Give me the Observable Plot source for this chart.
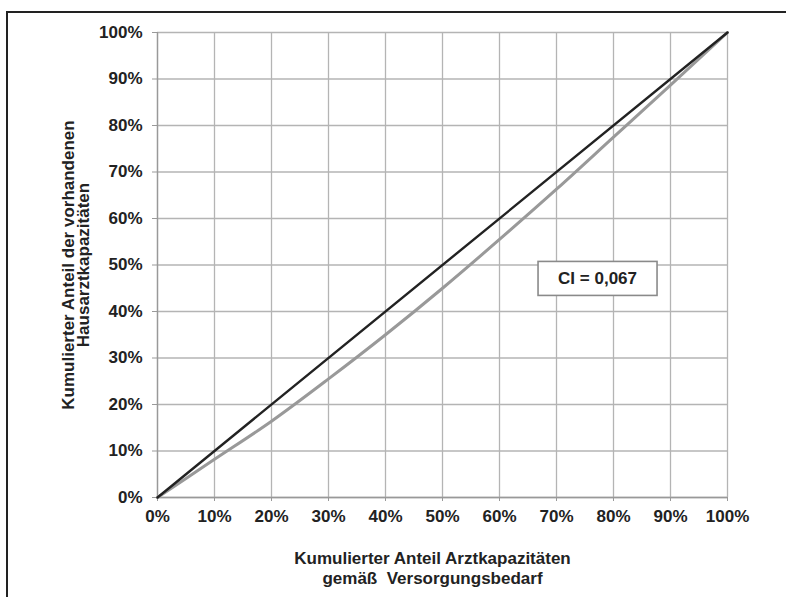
<!DOCTYPE html>
<html>
<head>
<meta charset="utf-8">
<script src="https://cdn.jsdelivr.net/npm/d3@7"></script>
<script src="https://cdn.jsdelivr.net/npm/@observablehq/plot@0.6"></script>
<style>
  html, body { margin: 0; padding: 0; background: #fff; overflow: hidden; }
  #wrap { position: relative; width: 786px; height: 597px; overflow: hidden; }
  #frame { position: absolute; left: 6px; top: 11px; width: 900px; height: 700px;
           border-left: 2px solid #222; border-top: 2px solid #222; box-sizing: border-box; }
  #chart { position: absolute; left: 0; top: 0; }
</style>
</head>
<body>
<div id="wrap"><div id="frame"></div><div id="chart"></div></div>
<script>
// Cumulative share of physician capacity (by need) – x
const capacityShare = [0, 0.1, 0.2, 0.3, 0.4, 0.5, 0.6, 0.7, 0.8, 0.9, 1.0];
// Cumulative share of existing GP capacity – concentration curve
const gpShare = [0, 0.082, 0.164, 0.255, 0.35, 0.45, 0.555, 0.663, 0.775, 0.887, 1.0];
// Line of equality
const equalityX = [0, 1];
const equalityY = [0, 1];
const tickValues = [0, 0.1, 0.2, 0.3, 0.4, 0.5, 0.6, 0.7, 0.8, 0.9, 1.0];
const ciLabel = ["CI = 0,067"];
const ciPos = {x: [0.772], y: [0.471]};
const xTitle = "Kumulierter Anteil Arztkapazitäten\ngemäß  Versorgungsbedarf";
const yTitle = "Kumulierter Anteil der vorhandenen\nHausarztkapazitäten";

const pct = d3.format(".0%");
const font = "'Liberation Sans', Arial, Helvetica, sans-serif";

const plot = Plot.plot({
  width: 786,
  height: 597,
  marginLeft: 157,
  marginRight: 59,
  marginTop: 32,
  marginBottom: 100,
  style: {fontFamily: font, fontWeight: "bold", fontSize: "17px", color: "#222", background: "transparent"},
  x: {domain: [0, 1], ticks: tickValues, tickFormat: pct},
  y: {domain: [0, 1], ticks: tickValues, tickFormat: pct},
  marks: [
    Plot.gridX(tickValues, {stroke: "#b4b4b4", strokeOpacity: 1, strokeWidth: 1.3}),
    Plot.gridY(tickValues, {stroke: "#b4b4b4", strokeOpacity: 1, strokeWidth: 1.3}),
    Plot.axisX({ticks: tickValues, tickFormat: pct, tickSize: 4, tickPadding: 8, stroke: "#999", fill: "#222", label: null, fontSize: 17}),
    Plot.axisY({ticks: tickValues, tickFormat: pct, tickSize: 5, tickPadding: 10, stroke: "#999", fill: "#222", label: null, fontSize: 17}),
    Plot.ruleX([0], {stroke: "#999", strokeWidth: 1.3}),
    Plot.ruleY([0], {stroke: "#999", strokeWidth: 1.3}),
    Plot.line(capacityShare.map((x, i) => ({x, y: gpShare[i]})), {x: "x", y: "y", stroke: "#999", strokeWidth: 3, curve: "monotone-x"}),
    Plot.line(equalityX.map((x, i) => ({x, y: equalityY[i]})), {x: "x", y: "y", stroke: "#222", strokeWidth: 2.4}),
    Plot.text(ciLabel, {x: ciPos.x, y: ciPos.y, text: d => d, fontSize: 17, fill: "#222"}),
    Plot.text([xTitle], {frameAnchor: "bottom", dy: 70, dx: -10, text: d => d, fontSize: 17, lineHeight: 1.18, lineAnchor: "middle", textAnchor: "middle", fill: "#222"}),
    Plot.text([yTitle], {frameAnchor: "left", dx: -81, text: d => d, rotate: -90, fontSize: 17, lineHeight: 0.9, lineAnchor: "middle", textAnchor: "middle", fill: "#222"})
  ]
});

document.getElementById("chart").appendChild(plot);

// CI label box around the rendered label
const svg = d3.select(plot);
svg.selectAll("text").filter(function () { return this.textContent === ciLabel[0]; })
  .each(function () {
    const b = this.getBBox();
    const w = 119, h = 34;
    const cx = b.x + b.width / 2, cy = b.y + b.height / 2;
    d3.select(this.parentNode).insert("rect", () => this)
      .attr("transform", this.getAttribute("transform"))
      .attr("x", cx - w / 2).attr("y", cy - h / 2)
      .attr("width", w).attr("height", h)
      .attr("fill", "#fff").attr("stroke", "#8a8a8a").attr("stroke-width", 1.6);
  });
</script>
</body>
</html>
